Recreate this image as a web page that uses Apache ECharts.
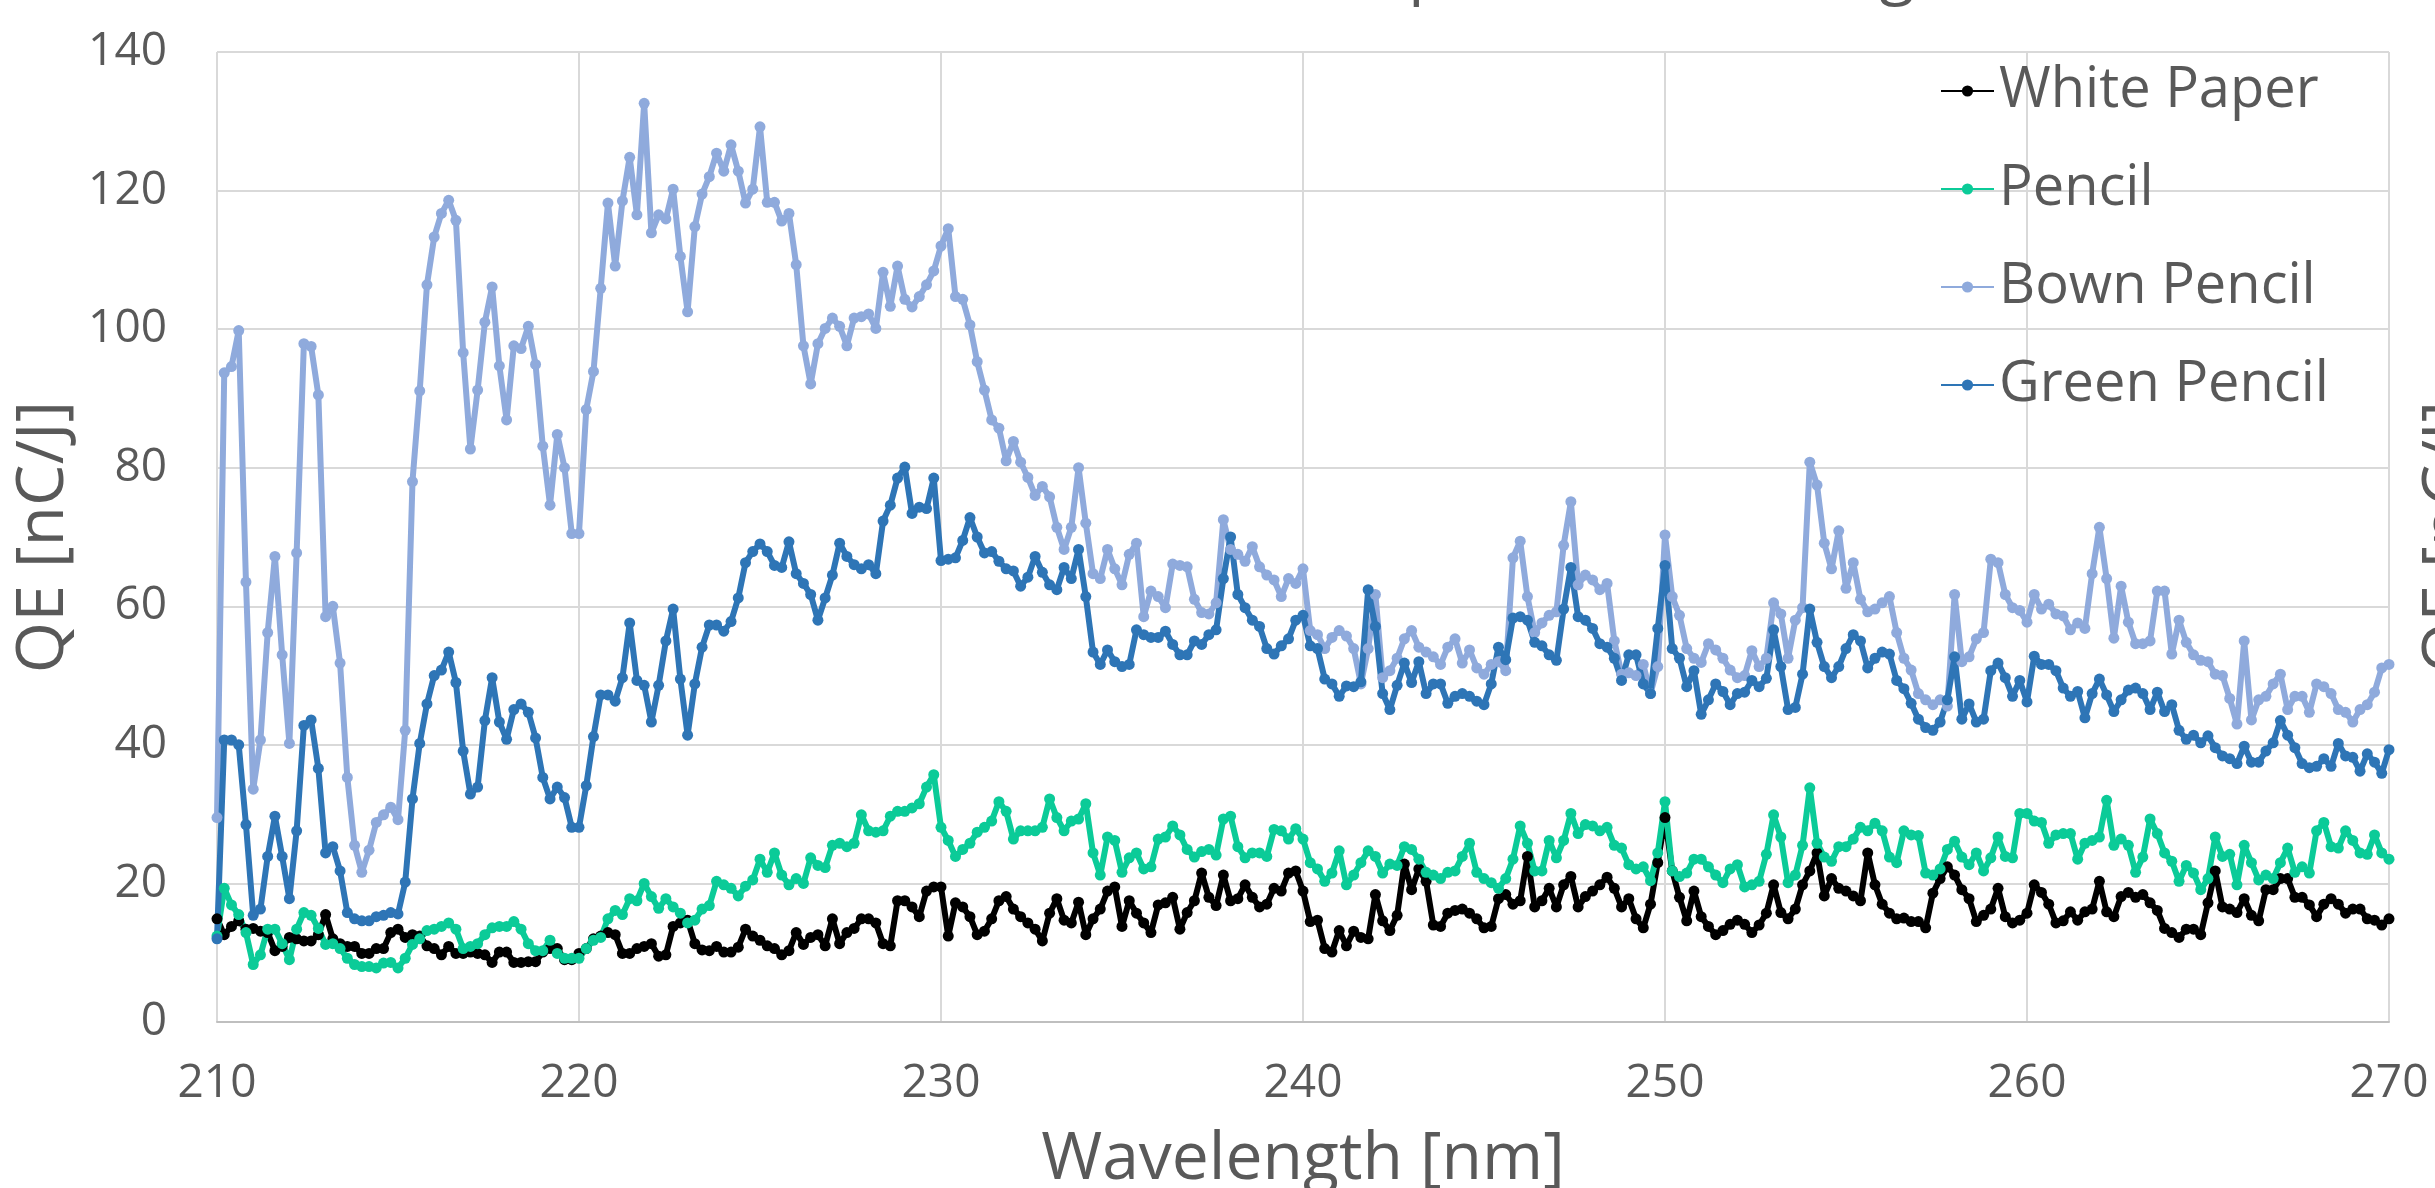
<!DOCTYPE html>
<html>
<head>
<meta charset="utf-8">
<style>

html, body {
	margin: 0;
	padding: 0;
	background: #ffffff;
}

#chartElem {
	width: 2435px;
	height: 1188px;
}

</style>
</head>
<body>

<div id="chartElem"></div>

<script src="https://cdn.jsdelivr.net/npm/echarts@6/dist/echarts.min.js"></script>

<script>

// readings every 0.2 nm from 210 to 270 nm
let seriesNames = ["White Paper", "Pencil", "Bown Pencil", "Green Pencil"];
let seriesColors = ["#000000", "#0BCB98", "#8FAADC", "#2E75B6"];

let whitePaper = [
	14.9, 12.6, 13.8, 14.6, 13.4, 13.5, 13.1, 12.9, 10.3, 10.9, 12.2, 12.0, 11.7, 11.7, 12.6, 15.5, 12.0, 11.3, 10.9, 10.9,
	9.9, 9.9, 10.6, 10.6, 12.9, 13.4, 12.2, 12.6, 12.4, 11.0, 10.6, 9.7, 10.9, 9.9, 9.9, 10.1, 9.9, 9.7, 8.6, 10.1,
	10.1, 8.6, 8.6, 8.7, 8.7, 10.1, 10.6, 10.6, 9.0, 9.0, 9.9,
	10.6, 12.0, 12.4, 12.9, 12.6, 9.9, 9.9, 10.6, 10.9, 11.3, 9.5, 9.7, 13.8, 14.3, 14.7, 11.3, 10.4, 10.3, 10.9, 10.1,
	10.1, 10.8, 13.4, 12.4, 11.8, 11.0, 10.6, 9.7, 10.3, 12.9, 11.2, 12.2, 12.6, 11.0, 14.9, 11.3, 12.9, 13.5, 14.9, 14.9,
	14.3, 11.3, 11.0, 17.5, 17.5, 16.6, 15.2, 18.9, 19.5,
	19.5, 12.4, 17.2, 16.6, 15.2, 12.6, 13.1, 14.9, 17.5, 18.1, 16.3, 15.2, 14.3, 13.4, 11.7, 15.7, 17.8, 14.7, 14.3, 17.3,
	12.6, 14.9, 16.3, 18.9, 19.5, 13.8, 17.5, 15.7, 14.3, 12.9, 16.9, 17.2, 18.0, 13.4, 15.8, 17.5, 21.5, 18.0, 16.8, 21.2,
	17.5, 17.8, 19.8, 18.0, 16.6, 17.0, 19.3, 18.9, 21.5, 21.8,
	18.9, 14.5, 14.7, 10.6, 10.1, 13.2, 11.0, 13.1, 12.2, 12.0, 18.4, 14.6, 13.2, 15.4, 22.8, 19.1, 22.1, 20.3, 14.0, 13.8,
	15.7, 16.1, 16.3, 15.7, 14.9, 13.6, 13.8, 17.8, 18.4, 17.0, 17.5, 23.9, 16.6, 17.5, 19.3, 16.6, 19.8, 21.0, 16.6, 18.1,
	18.9, 19.8, 20.9, 19.3, 16.6, 17.8, 14.9, 13.6, 17.0, 23.0,
	29.5, 21.8, 18.0, 14.6, 18.9, 15.2, 13.8, 12.6, 13.2, 14.1, 14.7, 14.1, 12.9, 14.0, 15.7, 19.8, 15.8, 14.9, 16.3, 19.8,
	21.8, 24.4, 18.2, 20.7, 19.3, 18.9, 18.2, 17.5, 24.4, 19.8, 17.0, 15.7, 14.9, 15.0, 14.5, 14.5, 13.6, 18.6, 20.7, 22.4,
	21.2, 19.1, 17.8, 14.5, 15.4, 16.3, 19.3, 15.2, 14.3, 14.7,
	15.7, 19.8, 18.7, 17.0, 14.3, 14.6, 15.9, 14.7, 15.9, 16.3, 20.3, 15.9, 15.2, 18.1, 18.7, 18.0, 18.4, 17.2, 16.1, 13.5,
	12.9, 12.2, 13.4, 13.4, 12.6, 17.2, 21.8, 16.6, 16.3, 15.8, 17.8, 15.4, 14.6, 19.1, 19.1, 20.7, 20.7, 18.0, 18.0, 16.9,
	15.2, 17.0, 17.8, 17.0, 15.7, 16.3, 16.3, 14.9, 14.7, 14.0, 14.9
];

let pencil = [
	12.4, 19.3, 16.9, 15.5, 12.9, 8.3, 9.7, 13.4, 13.4, 11.3, 9.0, 13.4, 15.8, 15.4, 13.5, 11.2, 11.3, 10.6, 9.2, 8.3,
	8.0, 8.0, 7.8, 8.5, 8.6, 7.8, 9.2, 11.2, 12.0, 13.2, 13.4, 13.8, 14.3, 13.4, 10.6, 10.9, 11.3, 12.6, 13.6, 13.8,
	13.8, 14.5, 13.4, 11.3, 10.3, 10.3, 11.8, 9.9, 9.2, 9.2, 9.2,
	10.6, 11.8, 12.2, 14.9, 16.1, 15.5, 17.8, 17.5, 20.0, 18.1, 16.4, 17.8, 16.6, 15.7, 14.3, 14.7, 16.3, 16.8, 20.3, 19.8,
	19.3, 18.2, 19.6, 20.5, 23.5, 21.6, 24.4, 21.2, 19.8, 20.7, 20.0, 23.7, 22.6, 22.3, 25.5, 25.8, 25.3, 25.8, 29.9, 27.6,
	27.4, 27.6, 29.7, 30.4, 30.4, 30.9, 31.5, 33.9, 35.7,
	28.1, 26.2, 23.9, 24.9, 25.8, 27.4, 28.1, 29.0, 31.8, 30.4, 26.4, 27.6, 27.6, 27.6, 28.1, 32.2, 29.5, 27.6, 29.0, 29.3,
	31.5, 24.4, 21.2, 26.7, 26.2, 21.6, 23.7, 24.4, 22.1, 22.4, 26.4, 26.7, 28.3, 27.0, 24.9, 23.8, 24.6, 24.9, 24.1, 29.3,
	29.7, 25.3, 23.7, 24.4, 24.4, 23.9, 27.8, 27.6, 26.4, 27.9,
	26.4, 23.0, 22.1, 20.3, 21.5, 24.7, 19.8, 21.2, 23.0, 24.7, 23.9, 21.5, 22.8, 22.6, 25.3, 24.9, 23.5, 21.6, 21.2, 20.7,
	21.6, 21.8, 23.9, 25.8, 21.6, 20.7, 20.1, 19.3, 20.7, 23.5, 28.3, 25.8, 21.8, 21.8, 26.2, 23.7, 26.2, 30.1, 27.2, 28.5,
	28.3, 27.6, 28.1, 25.5, 25.1, 22.7, 22.1, 22.4, 20.4, 24.4,
	31.8, 21.8, 21.0, 21.5, 23.5, 23.5, 22.4, 21.2, 20.1, 22.1, 22.7, 19.5, 19.8, 20.3, 24.2, 29.9, 26.7, 20.1, 21.2, 25.5,
	33.8, 25.8, 23.8, 23.2, 25.3, 25.3, 26.4, 28.1, 27.6, 28.7, 27.6, 23.8, 23.0, 27.6, 27.0, 26.9, 21.5, 21.2, 22.1, 24.9,
	26.1, 23.8, 22.7, 24.4, 21.8, 23.7, 26.7, 23.9, 23.7, 30.1,
	30.1, 29.0, 28.8, 25.8, 27.0, 27.2, 27.2, 23.5, 25.8, 26.2, 26.7, 32.0, 25.5, 26.4, 25.5, 21.6, 23.8, 29.3, 27.2, 24.4,
	23.2, 20.3, 22.6, 21.5, 19.1, 20.7, 26.7, 23.9, 24.2, 19.8, 25.5, 23.0, 20.5, 21.2, 20.7, 23.0, 25.1, 21.6, 22.4, 21.5,
	27.6, 28.8, 25.3, 25.1, 27.6, 26.2, 24.4, 24.2, 27.0, 24.4, 23.5
];

let bownPencil = [
	29.5, 93.7, 94.6, 99.8, 63.5, 33.6, 40.7, 56.2, 67.2, 53.0, 40.2, 67.7, 97.9, 97.5, 90.5, 58.5, 60.0, 51.8, 35.3, 25.5,
	21.6, 24.8, 28.8, 29.9, 31.0, 29.2, 42.1, 78.0, 91.1, 106.4, 113.3, 116.7, 118.6, 115.7, 96.6, 82.7, 91.2, 101.0, 106.1, 94.7,
	86.9, 97.6, 97.2, 100.4, 94.9, 83.1, 74.6, 84.8, 80.0, 70.5, 70.5,
	88.4, 93.9, 105.9, 118.2, 109.1, 118.5, 124.8, 116.5, 132.6, 113.9, 116.5, 115.9, 120.2, 110.5, 102.5, 114.8, 119.5, 122.0, 125.4, 122.8,
	126.6, 122.8, 118.2, 120.2, 129.2, 118.3, 118.3, 115.6, 116.7, 109.3, 97.6, 92.1, 97.9, 100.1, 101.6, 100.4, 97.6, 101.6, 101.8, 102.2,
	100.1, 108.2, 103.3, 109.1, 104.3, 103.2, 104.7, 106.4, 108.4,
	112.0, 114.5, 104.7, 104.3, 100.6, 95.3, 91.2, 86.9, 85.7, 81.0, 83.8, 80.8, 78.6, 76.0, 77.3, 75.8, 71.4, 68.2, 71.4, 80.0,
	72.0, 64.7, 64.0, 68.2, 65.4, 63.1, 67.5, 69.1, 58.5, 62.2, 61.4, 59.8, 66.1, 65.9, 65.7, 61.0, 59.1, 58.9, 60.5, 72.5,
	68.2, 67.5, 66.5, 68.6, 65.7, 64.5, 63.8, 61.4, 64.0, 63.3,
	65.4, 56.5, 55.9, 53.9, 55.5, 56.5, 55.7, 53.9, 48.8, 53.9, 61.7, 49.7, 50.7, 52.5, 55.3, 56.5, 54.1, 53.4, 52.7, 51.6,
	54.1, 55.3, 51.8, 53.7, 51.1, 50.2, 51.6, 52.0, 50.7, 67.0, 69.4, 61.4, 56.2, 57.6, 58.7, 59.2, 68.8, 75.1, 63.1, 64.5,
	63.8, 62.4, 63.3, 55.0, 50.2, 50.4, 50.0, 51.6, 47.4, 51.3,
	70.3, 61.4, 58.7, 53.9, 52.5, 51.9, 54.6, 53.7, 52.5, 50.8, 49.7, 50.0, 53.6, 51.3, 52.5, 60.5, 58.9, 52.5, 58.0, 59.8,
	80.8, 77.5, 69.1, 65.4, 70.9, 62.6, 66.3, 61.0, 59.2, 59.6, 60.5, 61.4, 56.2, 52.5, 50.8, 47.4, 46.5, 45.8, 46.5, 45.6,
	61.7, 52.0, 52.7, 55.3, 56.2, 66.8, 66.3, 61.7, 59.8, 59.4,
	57.7, 61.7, 59.6, 60.3, 58.9, 58.6, 56.6, 57.6, 56.8, 64.7, 71.4, 64.0, 55.4, 62.9, 57.7, 54.6, 54.6, 55.0, 62.2, 62.2,
	53.1, 58.0, 54.8, 53.0, 52.2, 52.0, 50.2, 50.0, 46.7, 43.0, 55.0, 43.6, 46.5, 47.0, 48.8, 50.2, 45.1, 47.0, 47.0, 44.7,
	48.8, 48.4, 47.4, 45.1, 44.7, 43.3, 45.1, 45.8, 47.6, 51.1, 51.6
];

let greenPencil = [
	12.0, 40.7, 40.7, 40.0, 28.5, 15.4, 16.3, 23.9, 29.7, 23.9, 17.8, 27.6, 42.8, 43.6, 36.6, 24.4, 25.3, 21.8, 15.8, 14.9,
	14.6, 14.6, 15.2, 15.4, 15.8, 15.6, 20.2, 32.2, 40.2, 45.9, 50.0, 50.8, 53.4, 49.0, 39.1, 32.9, 33.9, 43.5, 49.7, 43.3,
	40.8, 45.1, 45.9, 44.7, 41.0, 35.3, 32.2, 33.9, 32.4, 28.1, 28.1,
	34.1, 41.2, 47.2, 47.2, 46.3, 49.7, 57.6, 49.3, 48.6, 43.3, 48.6, 55.0, 59.6, 49.5, 41.4, 48.8, 54.1, 57.3, 57.3, 56.4,
	57.8, 61.2, 66.3, 67.9, 69.0, 67.9, 65.9, 65.6, 69.3, 64.7, 63.3, 61.7, 58.0, 61.2, 64.5, 69.1, 67.2, 66.0, 65.4, 66.0,
	64.7, 72.3, 74.6, 78.5, 80.1, 73.4, 74.3, 74.1, 78.5,
	66.6, 66.8, 67.0, 69.5, 72.8, 70.0, 67.7, 67.9, 66.5, 65.4, 65.1, 62.9, 64.2, 67.2, 64.9, 63.1, 62.4, 65.6, 64.0, 68.2,
	61.4, 53.4, 51.6, 53.7, 52.0, 51.3, 51.6, 56.6, 55.9, 55.5, 55.5, 56.4, 54.5, 53.0, 53.0, 55.0, 54.5, 55.9, 56.6, 64.0,
	70.0, 61.7, 59.8, 58.0, 57.1, 53.9, 53.1, 54.3, 55.3, 58.0,
	58.7, 54.3, 53.9, 49.5, 48.8, 47.0, 48.5, 48.4, 49.1, 62.4, 57.1, 47.4, 45.1, 48.6, 51.8, 49.0, 52.0, 47.4, 48.8, 48.8,
	46.0, 47.0, 47.4, 47.0, 46.3, 45.8, 48.8, 54.1, 52.3, 58.3, 58.5, 58.0, 54.8, 54.3, 53.0, 52.2, 59.6, 65.6, 58.5, 58.0,
	56.8, 54.6, 54.1, 52.5, 49.3, 53.0, 53.0, 48.8, 47.4, 56.8,
	65.9, 53.9, 52.5, 48.4, 50.7, 44.4, 46.5, 48.8, 47.7, 45.8, 47.4, 47.6, 49.3, 48.4, 49.6, 56.6, 51.3, 45.1, 45.4, 50.2,
	59.6, 54.8, 51.3, 49.7, 51.3, 53.9, 55.9, 55.0, 51.1, 52.5, 53.4, 53.1, 49.3, 48.1, 46.0, 43.7, 42.5, 42.1, 43.3, 46.5,
	52.7, 43.7, 45.9, 43.3, 43.7, 50.7, 51.8, 49.7, 47.0, 49.3,
	46.2, 52.8, 51.6, 51.6, 50.7, 48.2, 47.0, 47.7, 43.9, 47.4, 49.5, 47.2, 44.8, 46.5, 47.9, 48.2, 47.4, 45.1, 47.6, 44.8,
	45.8, 42.1, 40.8, 41.4, 40.3, 41.3, 39.6, 38.4, 38.0, 37.3, 39.8, 37.5, 37.5, 39.1, 40.3, 43.5, 41.4, 39.6, 37.3, 36.7,
	36.9, 38.0, 36.9, 40.2, 38.4, 38.2, 36.2, 38.7, 37.5, 35.9, 39.3
];

let allValues = [whitePaper, pencil, bownPencil, greenPencil];

let wavelengths = [];
for (let i = 0; i < whitePaper.length; i++) {
	wavelengths.push(Math.round((210 + i * 0.2) * 10) / 10);
}

let labelColor = "#595959",
	fontName = "Open Sans";

let chart = echarts.init(document.getElementById("chartElem"));

chart.setOption({
	animation: false,
	textStyle: {
		fontFamily: fontName
	},
	// only the descenders of the title show at the top edge of the crop
	title: {
		text: "Pencil Samples vs Wavelength",
		left: 1080,
		top: -63,
		textStyle: {
			fontFamily: fontName,
			fontSize: 64,
			fontWeight: "normal",
			color: labelColor
		}
	},
	legend: {
		orient: "vertical",
		left: 1935,
		top: 56,
		itemWidth: 53,
		itemHeight: 14,
		itemGap: 38,
		textStyle: {
			fontFamily: fontName,
			fontSize: 56,
			lineHeight: 60,
			color: labelColor
		},
		data: seriesNames
	},
	grid: {
		left: 217,
		right: 46,
		top: 52,
		bottom: 166,
		outerBoundsMode: "none"
	},
	xAxis: {
		type: "value",
		min: 210,
		max: 270,
		interval: 10,
		name: "Wavelength [nm]",
		nameLocation: "middle",
		nameGap: 105,
		nameTextStyle: {
			fontFamily: fontName,
			fontSize: 66,
			color: labelColor
		},
		axisLine: {
			show: true,
			lineStyle: {color: "#bfbfbf", width: 2}
		},
		axisTick: {show: false},
		axisLabel: {
			fontFamily: fontName,
			fontSize: 46,
			color: labelColor,
			margin: 39
		},
		splitLine: {
			show: true,
			lineStyle: {color: "#d9d9d9", width: 2}
		}
	},
	yAxis: [
		{
			type: "value",
			min: 0,
			max: 140,
			interval: 20,
			name: "QE [nC/J]",
			nameLocation: "middle",
			nameRotate: 90,
			nameGap: 115,
			nameTextStyle: {
				fontFamily: fontName,
				fontSize: 66,
				color: labelColor
			},
			axisLine: {show: false},
			axisTick: {show: false},
			axisLabel: {
				fontFamily: fontName,
				fontSize: 46,
				color: labelColor,
				margin: 50
			},
			splitLine: {
				show: true,
				lineStyle: {color: "#d9d9d9", width: 2}
			}
		},
		{
			type: "value",
			position: "right",
			min: 0,
			max: 140,
			interval: 20,
			name: "QE [nC/J]",
			nameLocation: "middle",
			nameRotate: 90,
			nameGap: 28,
			nameTextStyle: {
				fontFamily: fontName,
				fontSize: 66,
				color: labelColor
			},
			axisLine: {show: false},
			axisTick: {show: false},
			axisLabel: {show: false},
			splitLine: {show: false}
		}
	],
	series: seriesNames.map((name, k) => ({
		name: name,
		type: "line",
		data: wavelengths.map((w, i) => [w, allValues[k][i]]),
		symbol: "circle",
		symbolSize: 11,
		lineStyle: {
			width: 6,
			color: seriesColors[k],
			join: "round"
		},
		itemStyle: {
			color: seriesColors[k]
		},
		emphasis: {disabled: true}
	}))
});

</script>
</body>
</html>
